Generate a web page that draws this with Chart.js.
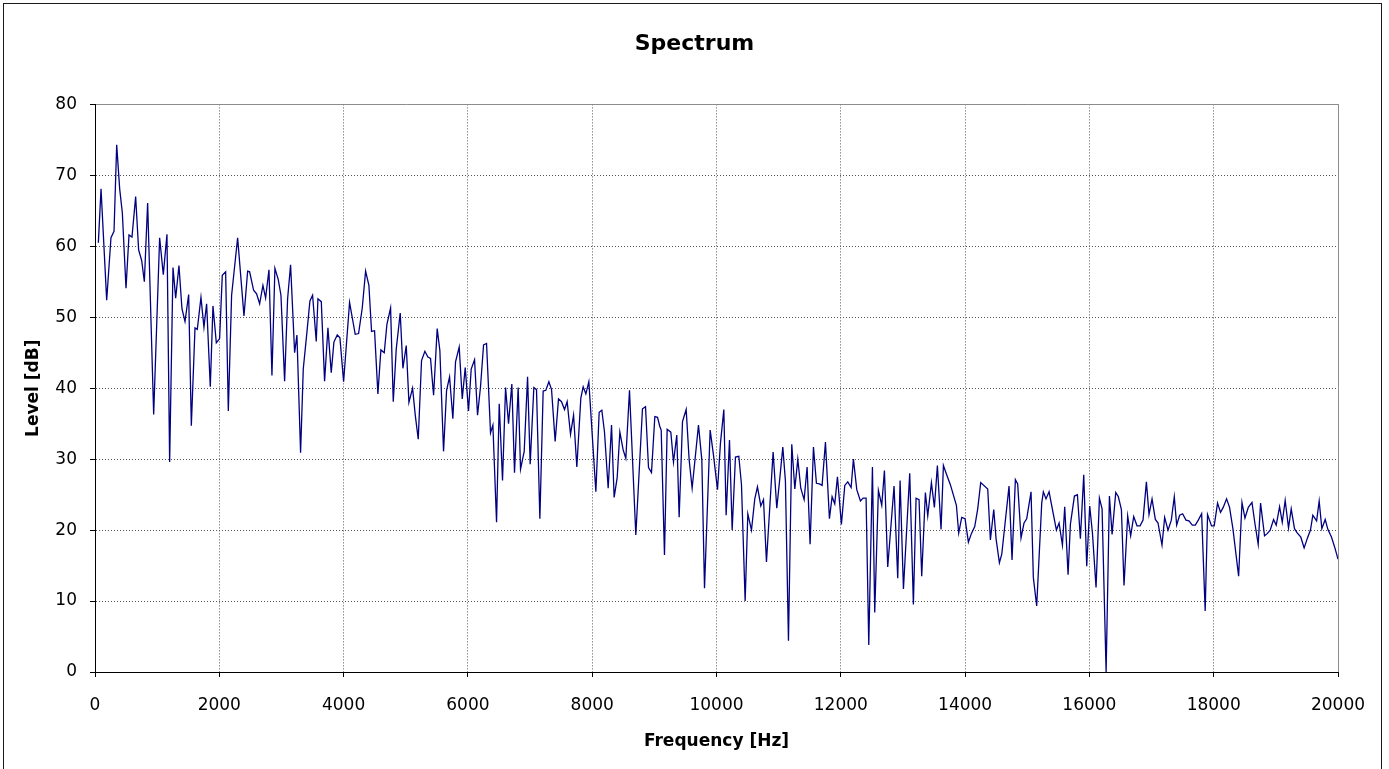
<!DOCTYPE html>
<html><head><meta charset="utf-8">
<script src="https://cdn.jsdelivr.net/npm/chart.js@4"></script>
<style>html,body{margin:0;padding:0;background:#fff;}canvas{display:block;}</style>
</head><body>
<canvas id="c" width="1389" height="769"></canvas>
<script>
const chartTitle = 'Spectrum';
const xAxisTitle = 'Frequency [Hz]';
const yAxisTitle = 'Level [dB]';
const xTickValues = [0, 2000, 4000, 6000, 8000, 10000, 12000, 14000, 16000, 18000, 20000];
const yTickValues = [0, 10, 20, 30, 40, 50, 60, 70, 80];

const freqHz = [
  54, 97, 188, 257, 306, 349, 397, 440, 499, 547, 595, 654, 702, 751, 794, 847, 944, 1040, 1099, 1158,
  1201, 1255, 1298, 1351, 1399, 1448, 1507, 1550, 1609, 1646, 1705, 1753,
  1796, 1855, 1898, 1952, 2005, 2048, 2102, 2145, 2198, 2295, 2397, 2456, 2488, 2552, 2600, 2649, 2702, 2745,
  2799, 2847, 2895, 2949, 2992, 3051, 3099, 3147, 3212, 3249, 3308, 3351, 3410, 3458, 3501, 3560, 3587,
  3641, 3694, 3748, 3801, 3844, 3898, 3941, 4000, 4096, 4187, 4241, 4300, 4354, 4407, 4450, 4498, 4552, 4600,
  4654, 4697, 4756, 4799, 4847, 4911, 4954, 5008, 5051, 5110, 5153, 5201, 5254, 5308, 5356, 5399, 5421,
  5448, 5506, 5549, 5608, 5657, 5705, 5758, 5801, 5860, 5909, 5957, 6010, 6053, 6107, 6155, 6203, 6252, 6300,
  6364, 6402, 6461, 6504, 6557, 6606, 6654, 6707, 6750, 6809, 6847, 6906, 6960, 7002, 7061, 7104, 7158, 7211, 7254,
  7303, 7346, 7404, 7458, 7506, 7555, 7597, 7651, 7700, 7753, 7817, 7855, 7898, 7946, 8059, 8112, 8155, 8198,
  8257, 8311, 8353, 8402, 8445, 8498, 8541, 8600, 8702, 8809, 8858, 8906, 8954, 9008, 9051, 9088,
  9110, 9163, 9206, 9265, 9308, 9361, 9399, 9453, 9512, 9560, 9608, 9710, 9764, 9807, 9898, 9951, 10016, 10064,
  10118, 10155, 10209, 10252, 10305, 10359, 10402, 10461, 10504, 10563, 10616, 10659, 10713, 10756, 10804, 10911,
  10970, 11013, 11067, 11109, 11158, 11211, 11260, 11308, 11356, 11410, 11458, 11506, 11560, 11608, 11656, 11699,
  11753, 11817, 11860, 11903, 11946, 12010, 12064, 12112, 12166, 12203, 12257, 12316, 12359, 12407, 12450, 12509,
  12546, 12605, 12659, 12702, 12755,
  12857, 12916, 12954, 13008, 13109, 13168, 13211, 13259, 13302, 13361, 13399, 13458, 13506, 13554, 13613, 13651,
  13699, 13763, 13860, 13897, 13946, 13999, 14053, 14101, 14155, 14203, 14251, 14364, 14407, 14461, 14498, 14552, 14590,
  14707, 14755, 14809, 14846, 14900, 14948, 14991, 15061, 15098, 15152, 15233, 15259, 15302, 15351, 15469, 15512,
  15566, 15603, 15657, 15694, 15759, 15807, 15855, 15909, 15957, 16005, 16049, 16107, 16161, 16204, 16269, 16322, 16365, 16424,
  16466, 16515, 16557, 16616, 16664, 16713, 16766, 16815, 16863, 16917, 16959, 17008, 17061, 17104, 17168, 17211,
  17265, 17318, 17366, 17404, 17452, 17500, 17554, 17602, 17656, 17704, 17752, 17806, 17863, 17901, 17965, 18008,
  18062, 18110, 18153, 18207, 18255,
  18309, 18401, 18455, 18503, 18557, 18616, 18662, 18716, 18754, 18818, 18861, 18909, 18963, 19006, 19060, 19103,
  19150, 19204, 19247, 19300, 19343, 19402, 19455, 19509, 19557, 19595, 19656, 19697, 19740, 19794, 19837, 19896, 19950, 20000
];
const levelDb = [
  60.5, 68.1, 52.4, 61.2, 62.1, 74.3, 68.1, 64.7, 54.1, 61.6, 61.3, 67.0, 59.5, 58.0, 55.0, 66.1, 36.3, 61.2, 56.0, 61.7,
  29.6, 57.0, 52.7, 57.3, 51.2, 49.4, 53.2, 34.7, 48.5, 48.3, 52.8, 48.6,
  51.9, 40.2, 51.6, 46.4, 47.0, 55.9, 56.4, 36.8, 53.1, 61.2, 50.2, 56.5, 56.4, 53.8, 53.3, 51.9, 54.5, 52.7,
  56.7, 41.8, 56.9, 55.3, 53.1, 41.0, 52.6, 57.4, 45.0, 47.5, 30.9, 42.7, 47.9, 52.3, 53.1, 46.6, 52.6,
  52.2, 41.0, 48.5, 42.2, 46.5, 47.5, 47.1, 40.9, 52.1, 47.6, 47.7, 51.3, 56.5, 54.5, 48.0, 48.1, 39.2, 45.4,
  45.0, 49.0, 51.3, 38.1, 45.5, 50.6, 42.8, 46.0, 38.0, 40.0, 36.2, 32.8, 43.9, 45.2, 44.4, 44.2, 41.8,
  39.0, 48.4, 45.3, 31.1, 39.7, 41.6, 35.7, 43.7, 45.8, 38.5, 42.9, 36.8, 42.7, 44.0, 36.2, 40.2, 46.1, 46.3,
  33.7, 34.8, 21.1, 37.8, 27.0, 40.1, 35.0, 40.6, 28.1, 40.1, 28.6, 31.1, 41.6, 29.3, 40.1, 39.8, 21.6, 39.6, 39.7,
  40.9, 39.8, 32.5, 38.5, 38.1, 37.0, 38.1, 33.5, 36.2, 28.9, 38.6, 40.2, 39.2, 40.9, 25.4, 36.6, 36.9, 33.8,
  25.9, 34.8, 24.6, 27.4, 33.8, 31.3, 30.1, 39.7, 19.3, 37.1, 37.4, 28.8, 28.1, 36.0, 35.9, 34.6,
  34.1, 16.5, 34.2, 33.8, 29.6, 33.4, 21.8, 35.3, 37.0, 29.9, 25.9, 34.8, 29.9, 11.8, 34.1, 30.6, 25.7, 32.3,
  37.0, 22.1, 32.7, 20.0, 30.3, 30.4, 26.4, 10.0, 22.3, 20.0, 24.4, 26.1, 23.4, 24.3, 15.5, 31.0,
  23.1, 26.8, 31.7, 26.9, 4.4, 32.1, 25.8, 30.0, 25.9, 24.3, 28.9, 18.0, 31.7, 26.6, 26.5, 26.3,
  32.4, 21.6, 24.7, 23.7, 27.5, 20.8, 26.3, 26.8, 26.0, 30.0, 25.7, 24.1, 24.5, 24.5, 3.8, 28.9,
  8.4, 25.6, 23.5, 28.4, 14.8,
  26.2, 13.2, 27.0, 11.7, 28.0, 9.5, 24.5, 24.3, 13.5, 25.3, 22.0, 26.7, 23.2, 29.1, 20.1, 29.1,
  27.9, 26.4, 23.5, 19.6, 21.8, 21.6, 18.3, 19.5, 20.5, 23.0, 26.7, 25.8, 18.6, 22.9, 18.8, 15.4, 16.6,
  26.2, 15.8, 27.1, 26.5, 18.9, 21.0, 21.6, 25.4, 13.3, 9.3, 23.8, 25.4, 24.4, 25.4, 20.0, 21.0,
  17.9, 23.3, 13.7, 20.8, 24.8, 25.0, 18.8, 27.8, 14.9, 23.4, 19.6, 11.9, 24.5, 23.0, 0.0, 24.8, 19.4, 25.3,
  24.7, 22.9, 12.2, 22.0, 19.2, 21.9, 20.6, 20.6, 21.4, 26.8, 22.2, 24.4, 21.5, 21.0, 17.9, 21.8,
  20.0, 21.4, 24.7, 20.7, 22.1, 22.3, 21.4, 21.3, 20.7, 20.7, 21.4, 22.3, 8.6, 22.2, 20.6, 20.6,
  23.8, 22.5, 23.2, 24.4, 23.2,
  20.2, 13.5, 23.9, 21.7, 23.2, 23.9, 21.0, 18.0, 23.8, 19.2, 19.5, 20.0, 21.5, 20.7, 23.3, 21.1,
  24.2, 20.3, 23.0, 20.2, 19.6, 19.0, 17.5, 18.9, 20.0, 22.1, 21.3, 24.1, 20.2, 21.5, 20.1, 19.0, 17.5, 15.9
];

const FONT = "'DejaVu Sans', sans-serif";
const PLOT_LEFT = 95, PLOT_RIGHT = 1338, PLOT_BOTTOM = 672;

const framePlugin = {
  id: 'frame',
  beforeDraw(chart) {
    const ctx = chart.ctx;
    ctx.save();
    ctx.fillStyle = '#ffffff';
    ctx.fillRect(0, 0, chart.width, chart.height);
    ctx.restore();
  },
  afterDraw(chart) {
    const {ctx, chartArea: a} = chart;
    ctx.save();
    ctx.lineWidth = 1;
    ctx.strokeStyle = '#8c8c8c';
    ctx.beginPath();
    ctx.moveTo(a.left + 1, Math.round(a.top) + 0.5);
    ctx.lineTo(Math.round(a.right) + 0.5, Math.round(a.top) + 0.5);
    ctx.lineTo(Math.round(a.right) + 0.5, a.bottom);
    ctx.stroke();
    ctx.strokeStyle = '#1a1a1a';
    ctx.strokeRect(3.5, 3.5, 1378, 800);
    ctx.restore();
  }
};

new Chart(document.getElementById('c'), {
  type: 'line',
  data: {
    datasets: [{
      data: freqHz.map((f, i) => ({x: f, y: levelDb[i]})),
      borderColor: '#000080',
      borderWidth: 1.3,
      pointRadius: 0,
      tension: 0,
      fill: false
    }]
  },
  options: {
    responsive: false,
    animation: false,
    devicePixelRatio: 1,
    layout: {padding: {left: 0, right: 0, top: 0, bottom: 0}},
    plugins: {
      legend: {display: false},
      tooltip: {enabled: false},
      title: {
        display: true, text: chartTitle, color: '#000',
        font: {family: FONT, size: 22, weight: 'bold'},
        padding: {top: 31, bottom: 47}
      }
    },
    scales: {
      x: {
        type: 'linear', min: 0, max: 20000,
        afterBuildTicks: s => { s.ticks = xTickValues.map(v => ({value: v})); },
        afterFit: s => { s.height = 769 - PLOT_BOTTOM; },
        grid: {color: '#555', lineWidth: 1, drawTicks: true, tickLength: 5, tickColor: '#000'},
        border: {display: true, color: '#000', width: 1, dash: [1, 2]},
        ticks: {color: '#000', font: {family: FONT, size: 17}, padding: 18, maxRotation: 0, autoSkip: false,
                callback: v => String(v)},
        title: {display: true, text: xAxisTitle, color: '#000',
                font: {family: FONT, size: 17, weight: 'bold'}, padding: {top: 0, bottom: 17}}
      },
      y: {
        type: 'linear', min: 0, max: 80,
        afterBuildTicks: s => { s.ticks = yTickValues.map(v => ({value: v})); },
        afterFit: s => { s.width = PLOT_LEFT; },
        grid: {color: '#555', lineWidth: 1, drawTicks: true, tickLength: 5, tickColor: '#000'},
        border: {display: true, color: '#000', width: 1, dash: [1, 2]},
        ticks: {color: '#000', font: {family: FONT, size: 17}, padding: 13, autoSkip: false,
                callback: v => String(v)},
        title: {display: true, text: yAxisTitle, color: '#000',
                font: {family: FONT, size: 17, weight: 'bold'}, padding: {top: 23, bottom: 0}}
      },
      yRight: {
        type: 'linear', position: 'right', min: 0, max: 80,
        afterFit: s => { s.width = 1389 - PLOT_RIGHT; },
        grid: {display: false, drawOnChartArea: false, drawTicks: false},
        border: {display: false},
        ticks: {display: false}
      }
    }
  },
  plugins: [framePlugin]
});
</script>
</body></html>
